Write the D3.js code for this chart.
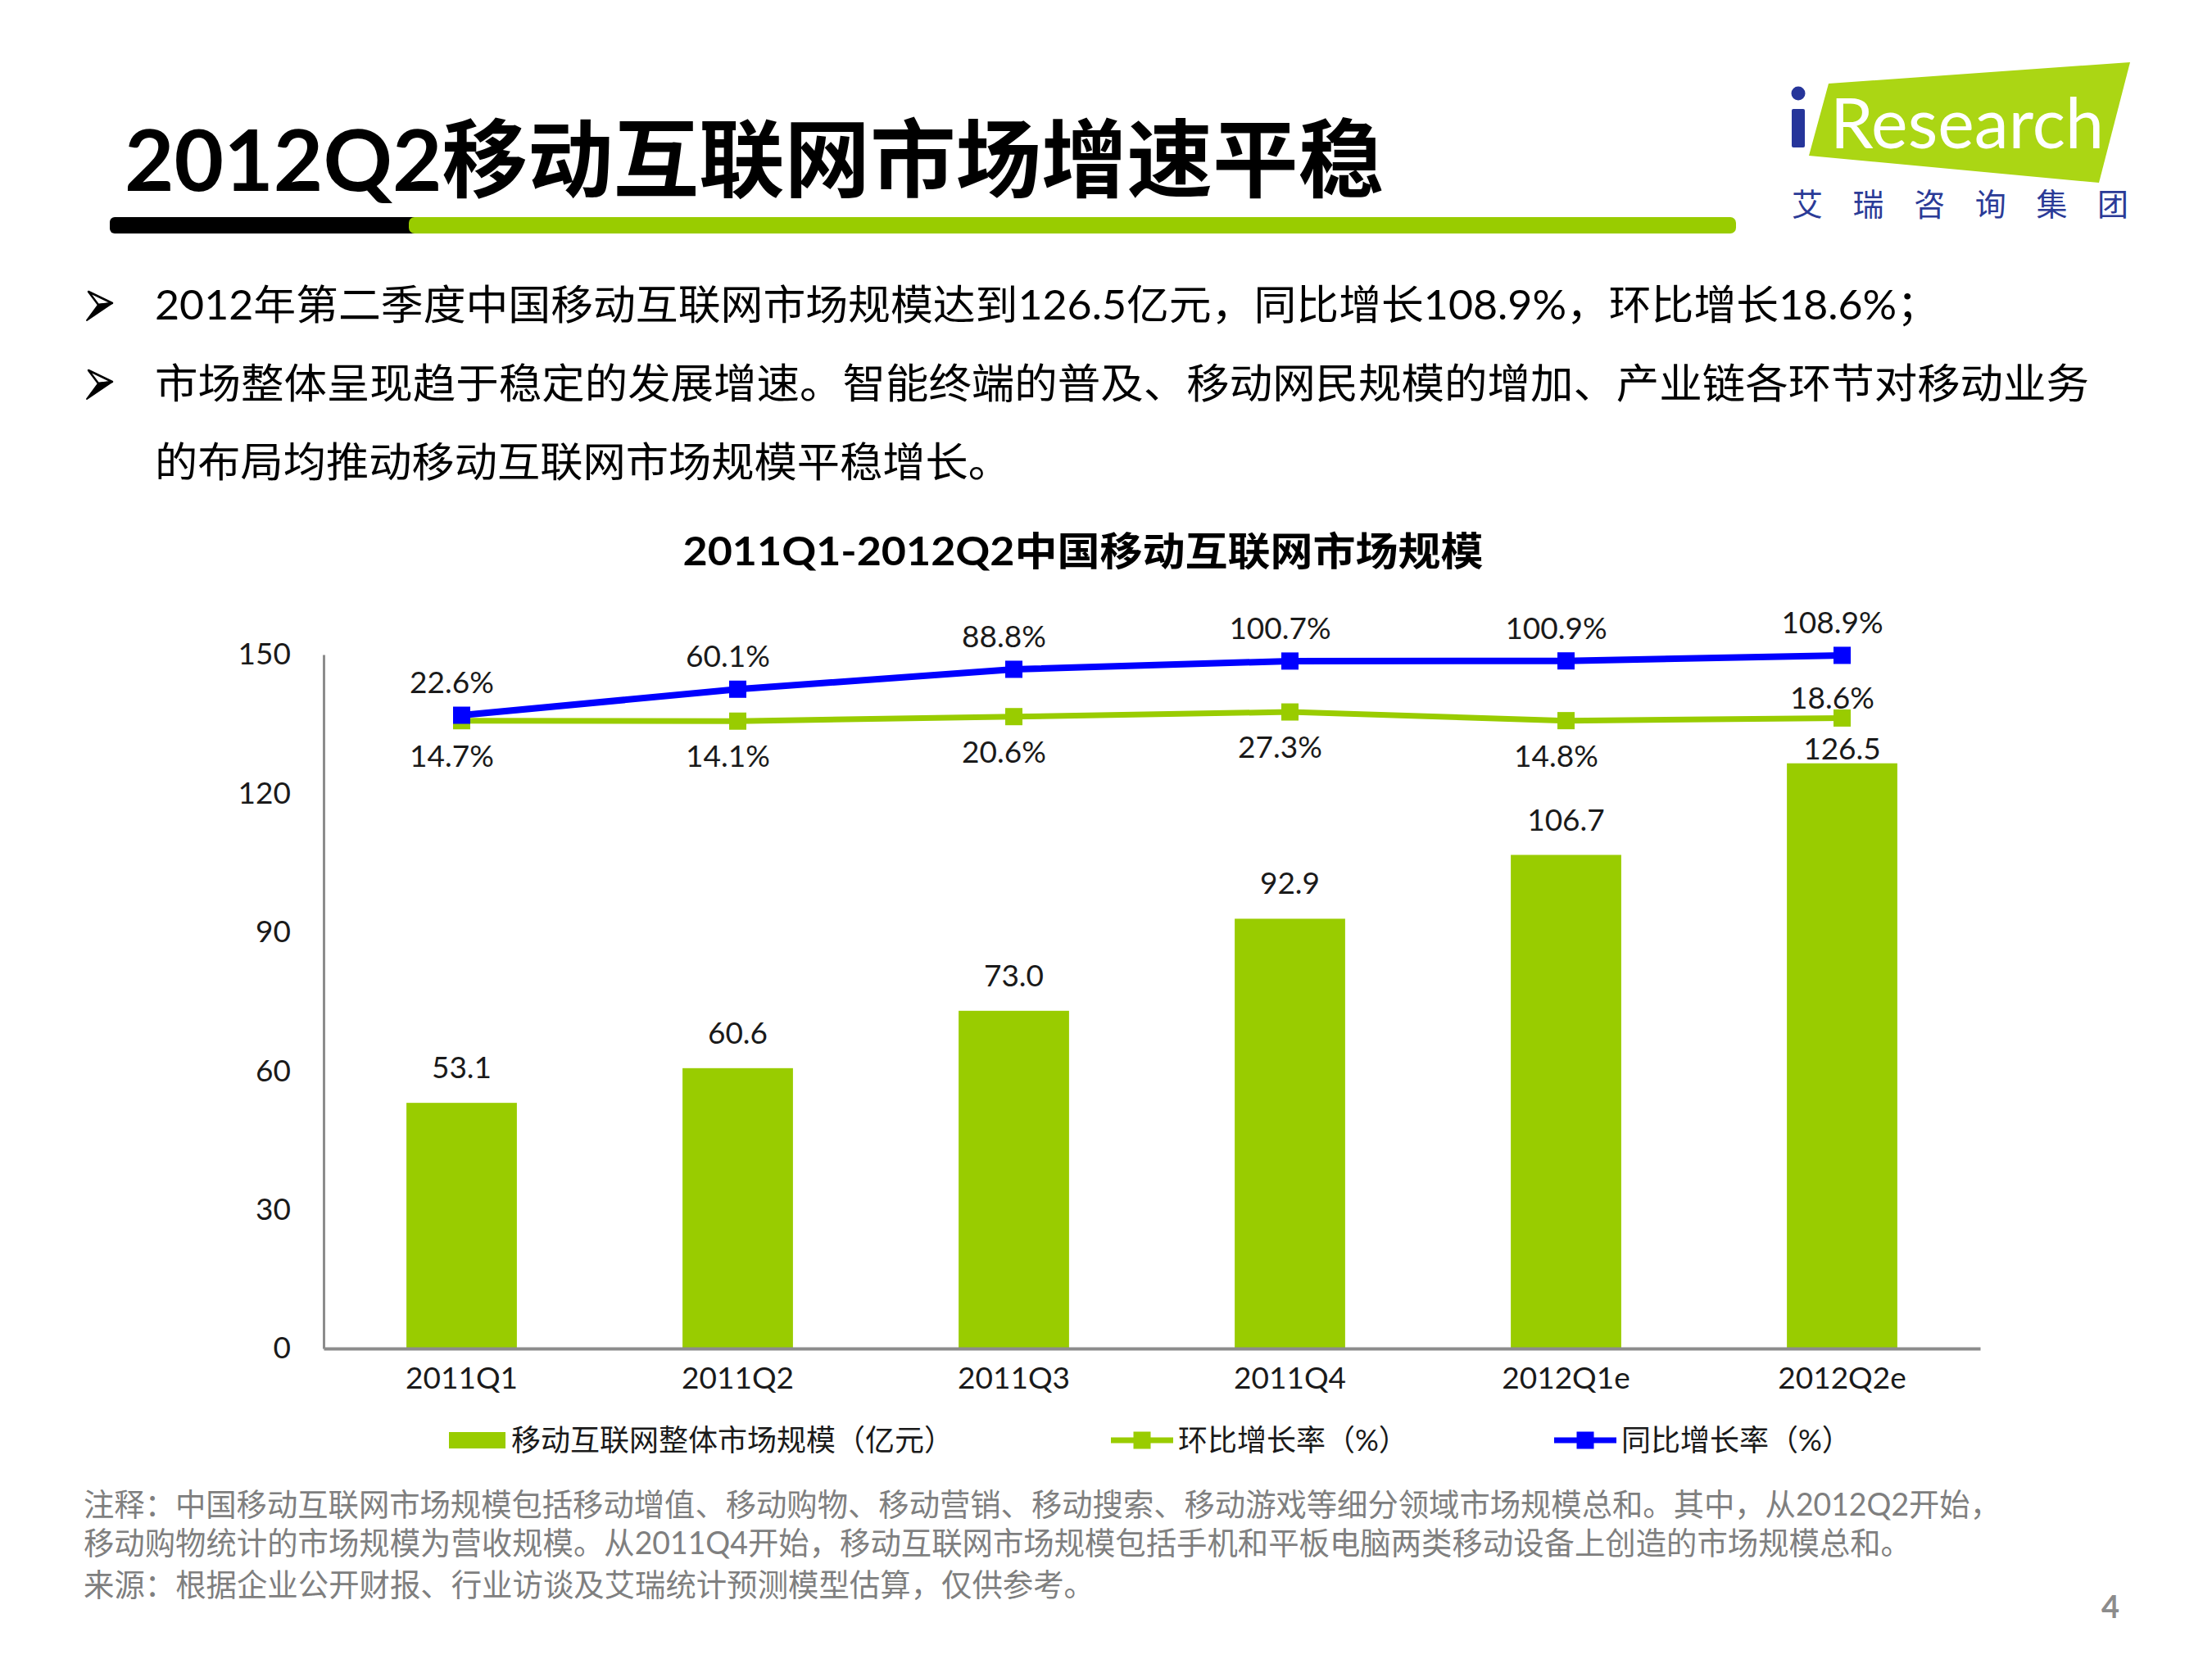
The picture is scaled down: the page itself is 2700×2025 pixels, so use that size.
<!DOCTYPE html>
<html>
<head>
<meta charset="utf-8">
<script src="https://cdn.jsdelivr.net/npm/d3@7"></script>
<style>
  html, body { margin: 0; padding: 0; background: #fff; }
  svg { display: block; }
  text { font-family: "Lato", "Noto Sans CJK SC", sans-serif; }
</style>
</head>
<body>
<svg id="chart" width="2700" height="2025"></svg>
<script>
// chart data
const categories = ['2011Q1', '2011Q2', '2011Q3', '2011Q4', '2012Q1e', '2012Q2e'];
const marketSize = [53.1, 60.6, 73.0, 92.9, 106.7, 126.5];   // 亿元
const qoqGrowth  = [14.7, 14.1, 20.6, 27.3, 14.8, 18.6];     // 环比 %
const yoyGrowth  = [22.6, 60.1, 88.8, 100.7, 100.9, 108.9];  // 同比 %
const yTicks = [0, 30, 60, 90, 120, 150];

const legendLabels = ['移动互联网整体市场规模（亿元）', '环比增长率（%）', '同比增长率（%）'];

const pageTitle = '2012Q2移动互联网市场增速平稳';
const chartTitle = '2011Q1-2012Q2中国移动互联网市场规模';
const bullets = [
  ['2012年第二季度中国移动互联网市场规模达到126.5亿元，同比增长108.9%，环比增长18.6%；'],
  ['市场整体呈现趋于稳定的发展增速。智能终端的普及、移动网民规模的增加、产业链各环节对移动业务',
   '的布局均推动移动互联网市场规模平稳增长。']
];
const notes = [
  '注释：中国移动互联网市场规模包括移动增值、移动购物、移动营销、移动搜索、移动游戏等细分领域市场规模总和。其中，从2012Q2开始，',
  '移动购物统计的市场规模为营收规模。从2011Q4开始，移动互联网市场规模包括手机和平板电脑两类移动设备上创造的市场规模总和。',
  '来源：根据企业公开财报、行业访谈及艾瑞统计预测模型估算，仅供参考。'
];

const GREEN = '#99cc00', BLUE = '#0000ff', AXIS = '#8c8c8c';

const svg = d3.select('#chart');
svg.append('rect').attr('width', 2700).attr('height', 2025).attr('fill', '#fff');

// ---- header ----
svg.append('text')
    .attr('x', 152).attr('y', 233)
    .attr('font-size', 104).attr('font-weight', 700)
    .attr('textLength', 1537).attr('lengthAdjust', 'spacingAndGlyphs')
    .attr('fill', '#000')
    .text(pageTitle);

svg.append('rect').attr('x', 134).attr('y', 265).attr('width', 380).attr('height', 20)
    .attr('rx', 6).attr('fill', '#000');
svg.append('rect').attr('x', 499).attr('y', 265).attr('width', 1620).attr('height', 20)
    .attr('rx', 7).attr('fill', GREEN);

// logo
const logo = svg.append('g');
logo.append('polygon')
    .attr('points', '2232,102 2600,76 2562,223 2208,190')
    .attr('fill', '#abd614');
logo.append('circle').attr('cx', 2195).attr('cy', 114).attr('r', 8.5).attr('fill', '#26359a');
logo.append('rect').attr('x', 2187).attr('y', 133).attr('width', 16).attr('height', 47)
    .attr('rx', 2).attr('fill', '#26359a');
logo.append('text')
    .attr('x', 2234).attr('y', 181)
    .attr('font-size', 86)
    .attr('textLength', 334).attr('lengthAdjust', 'spacingAndGlyphs')
    .attr('fill', '#fff')
    .text('Research');
logo.selectAll('text.cn')
    .data(Array.from('艾瑞咨询集团'))
    .join('text')
    .attr('class', 'cn')
    .attr('x', (d, i) => 2206 + i * 74.6)
    .attr('y', 263)
    .attr('text-anchor', 'middle')
    .attr('font-size', 38)
    .attr('font-family', '"Noto Sans CJK SC", sans-serif')
    .attr('fill', '#2b3b97')
    .text(d => d);

// bullets (3D arrowhead + text)
function arrowhead(cy) {
  const a = svg.append('g').attr('transform', `translate(0,${cy})`);
  a.append('path')
      .attr('d', 'M108,-16 L137,-2 L120,0 Z')
      .attr('fill', '#fff').attr('stroke', '#000').attr('stroke-width', 2.5)
      .attr('stroke-linejoin', 'round');
  a.append('path')
      .attr('d', 'M120,0 L137,-2 L106,19 Z')
      .attr('fill', '#000').attr('stroke', '#000').attr('stroke-width', 2)
      .attr('stroke-linejoin', 'round');
}
const bulletWidths = [[2178], [2361, 1045]];
let lineY = 390;
bullets.forEach((lines, bi) => {
  arrowhead(lineY - 18);
  lines.forEach((line, li) => {
    svg.append('text')
        .attr('x', 189).attr('y', lineY)
        .attr('font-size', 50)
        .attr('textLength', bulletWidths[bi][li]).attr('lengthAdjust', 'spacingAndGlyphs')
        .attr('fill', '#000')
        .text(line);
    lineY += 96;
  });
});

// chart title
svg.append('text')
    .attr('x', 1322).attr('y', 690)
    .attr('text-anchor', 'middle')
    .attr('font-size', 48).attr('font-weight', 700)
    .attr('textLength', 977).attr('lengthAdjust', 'spacingAndGlyphs')
    .text(chartTitle);

// ---- chart ----
const plot = { left: 395, right: 2417, top: 799, bottom: 1646 };

const x = d3.scaleBand()
    .domain(categories)
    .range([plot.left, plot.right])
    .paddingInner(0.6)
    .paddingOuter(0.3);

const y = d3.scaleLinear().domain([0, 150]).range([plot.bottom, plot.top]);
// secondary (hidden) axis for growth rates
const y2 = d3.scaleLinear().domain([-890, 110]).range([plot.bottom, plot.top]);

const g = svg.append('g');
const cx = i => x(categories[i]) + x.bandwidth() / 2;

// 环比 label goes above its point when the bar top is right under it
const qoqAbove = qoqGrowth.map((d, i) => y(marketSize[i]) - y2(d) < 80);

// bars
g.selectAll('rect.bar')
    .data(marketSize)
    .join('rect')
    .attr('class', 'bar')
    .attr('x', (d, i) => x(categories[i]))
    .attr('y', d => y(d))
    .attr('width', x.bandwidth())
    .attr('height', d => y(0) - y(d))
    .attr('fill', GREEN);

g.selectAll('text.barlabel')
    .data(marketSize)
    .join('text')
    .attr('class', 'barlabel')
    .attr('x', (d, i) => cx(i))
    .attr('y', (d, i) => y(d) - (qoqAbove[i] ? 5 : 30))
    .attr('text-anchor', 'middle')
    .attr('font-size', 37)
    .attr('fill', '#1a1a1a')
    .text(d => d.toFixed(1));

// axes
const yAxis = g.append('g')
    .attr('transform', `translate(${plot.left},0)`)
    .call(d3.axisLeft(y).tickValues(yTicks).tickSize(0).tickSizeOuter(0).tickPadding(40));
yAxis.select('.domain').attr('stroke', AXIS).attr('stroke-width', 3);
yAxis.selectAll('text')
    .attr('font-size', 37).attr('fill', '#1a1a1a')
    .attr('font-family', '"Lato", sans-serif');

const xAxis = g.append('g')
    .attr('transform', `translate(0,${plot.bottom})`)
    .call(d3.axisBottom(x).tickSize(0).tickSizeOuter(0).tickPadding(23));
xAxis.select('.domain').attr('stroke', AXIS).attr('stroke-width', 4);
xAxis.selectAll('text')
    .attr('font-size', 37).attr('fill', '#1a1a1a')
    .attr('font-family', '"Lato", sans-serif');

// lines
const line = d3.line().x((d, i) => cx(i)).y(d => y2(d));
const marker = 21;

function drawSeries(values, color, width, cls) {
  g.append('path')
      .datum(values)
      .attr('d', line)
      .attr('fill', 'none')
      .attr('stroke', color)
      .attr('stroke-width', width)
      .attr('stroke-linejoin', 'round');
  g.selectAll('rect.' + cls)
      .data(values)
      .join('rect')
      .attr('class', cls)
      .attr('x', (d, i) => cx(i) - marker / 2)
      .attr('y', d => y2(d) - marker / 2)
      .attr('width', marker)
      .attr('height', marker)
      .attr('fill', color);
}
drawSeries(qoqGrowth, GREEN, 7, 'qoq');
drawSeries(yoyGrowth, BLUE, 8, 'yoy');

g.selectAll('text.yoylabel')
    .data(yoyGrowth)
    .join('text')
    .attr('class', 'yoylabel')
    .attr('x', (d, i) => cx(i) - 12)
    .attr('y', d => y2(d) - 27)
    .attr('text-anchor', 'middle')
    .attr('font-size', 37).attr('fill', '#1a1a1a')
    .text(d => d.toFixed(1) + '%');

g.selectAll('text.qoqlabel')
    .data(qoqGrowth)
    .join('text')
    .attr('class', 'qoqlabel')
    .attr('x', (d, i) => cx(i) - 12)
    .attr('y', (d, i) => qoqAbove[i] ? y2(d) - 11 : y2(d) + 56)
    .attr('text-anchor', 'middle')
    .attr('font-size', 37).attr('fill', '#1a1a1a')
    .text(d => d.toFixed(1) + '%');

// legend
const legendY = 1758;
const legendX = [548, 1356, 1897];
const lg = svg.append('g');
lg.append('rect').attr('x', legendX[0]).attr('y', legendY - 10).attr('width', 69).attr('height', 20)
    .attr('fill', GREEN);
[[GREEN, 1], [BLUE, 2]].forEach(([color, k]) => {
  lg.append('line')
      .attr('x1', legendX[k]).attr('x2', legendX[k] + 76)
      .attr('y1', legendY).attr('y2', legendY)
      .attr('stroke', color).attr('stroke-width', 7);
  lg.append('rect')
      .attr('x', legendX[k] + 38 - marker / 2).attr('y', legendY - marker / 2)
      .attr('width', marker).attr('height', marker)
      .attr('fill', color);
});
lg.selectAll('text')
    .data(legendLabels)
    .join('text')
    .attr('x', (d, i) => legendX[i] + (i === 0 ? 76 : 82))
    .attr('y', legendY + 13)
    .attr('font-size', 36)
    .attr('fill', '#1a1a1a')
    .text(d => d);

// notes
const noteWidths = [2340, 2231, 1234];
svg.selectAll('text.note')
    .data(notes)
    .join('text')
    .attr('class', 'note')
    .attr('x', 102)
    .attr('y', (d, i) => [1850, 1897, 1948][i])
    .attr('font-size', 38)
    .attr('textLength', (d, i) => noteWidths[i]).attr('lengthAdjust', 'spacingAndGlyphs')
    .attr('fill', '#7f7f7f')
    .text(d => d);

svg.append('text')
    .attr('x', 2576).attr('y', 1975)
    .attr('text-anchor', 'middle')
    .attr('font-size', 38).attr('font-weight', 700)
    .attr('fill', '#8c8c8c')
    .text('4');
</script>
</body>
</html>
